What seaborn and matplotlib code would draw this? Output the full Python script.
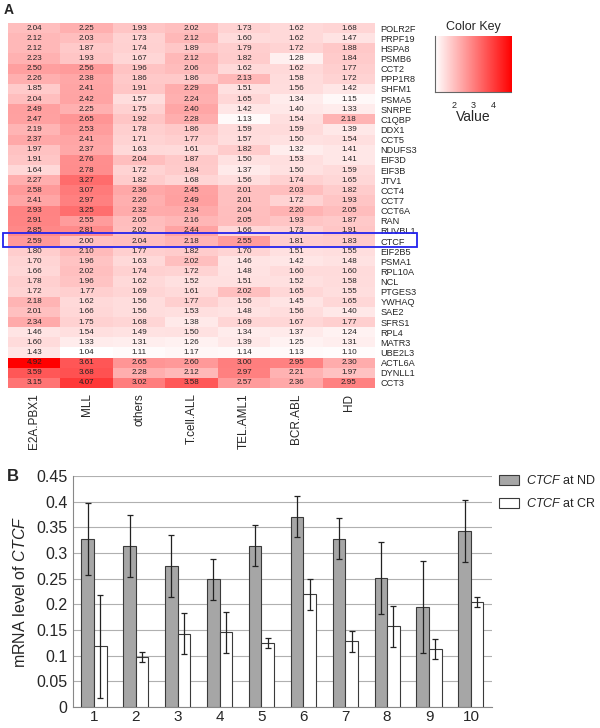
import matplotlib
matplotlib.use('Agg')
import matplotlib.pyplot as plt
import seaborn as sns
import numpy as np
import pandas as pd
from matplotlib.colors import LinearSegmentedColormap
from matplotlib.patches import Rectangle, Patch

# ---- panel A data ----
genes = ['POLR2F', 'PRPF19', 'HSPA8', 'PSMB6', 'CCT2', 'PPP1R8', 'SHFM1', 'PSMA5',
         'SNRPE', 'C1QBP', 'DDX1', 'CCT5', 'NDUFS3', 'EIF3D', 'EIF3B', 'JTV1',
         'CCT4', 'CCT7', 'CCT6A', 'RAN', 'RUVBL1', 'CTCF', 'EIF2B5', 'PSMA1',
         'RPL10A', 'NCL', 'PTGES3', 'YWHAQ', 'SAE2', 'SFRS1', 'RPL4', 'MATR3',
         'UBE2L3', 'ACTL6A', 'DYNLL1', 'CCT3']
subtypes = ['E2A.PBX1', 'MLL', 'others', 'T.cell.ALL', 'TEL.AML1', 'BCR.ABL', 'HD']

e2a_pbx1 = [2.04, 2.12, 2.12, 2.23, 2.50, 2.26, 1.85, 2.04, 2.49, 2.47, 2.19, 2.37,
            1.97, 1.91, 1.64, 2.27, 2.58, 2.41, 2.93, 2.91, 2.85, 2.59, 1.80, 1.70,
            1.66, 1.78, 1.72, 2.18, 2.01, 2.34, 1.46, 1.60, 1.43, 4.92, 3.59, 3.15]
mll = [2.25, 2.03, 1.87, 1.93, 2.56, 2.38, 2.41, 2.42, 2.25, 2.65, 2.53, 2.41,
       2.37, 2.76, 2.78, 3.27, 3.07, 2.97, 3.25, 2.55, 2.81, 2.00, 2.10, 1.96,
       2.02, 1.96, 1.77, 1.62, 1.66, 1.75, 1.54, 1.33, 1.04, 3.61, 3.68, 4.07]
others = [1.93, 1.73, 1.74, 1.67, 1.96, 1.86, 1.91, 1.57, 1.75, 1.92, 1.78, 1.71,
          1.63, 2.04, 1.72, 1.82, 2.36, 2.26, 2.32, 2.05, 2.02, 2.04, 1.77, 1.63,
          1.74, 1.62, 1.69, 1.56, 1.56, 1.68, 1.49, 1.31, 1.11, 2.65, 2.28, 3.02]
t_cell_all = [2.02, 2.12, 1.89, 2.12, 2.06, 1.86, 2.29, 2.24, 2.40, 2.28, 1.86, 1.77,
              1.61, 1.87, 1.84, 1.68, 2.45, 2.49, 2.34, 2.16, 2.44, 2.18, 1.82, 2.02,
              1.72, 1.52, 1.61, 1.77, 1.53, 1.38, 1.50, 1.26, 1.17, 2.60, 2.12, 3.58]
tel_aml1 = [1.73, 1.60, 1.79, 1.82, 1.62, 2.13, 1.51, 1.65, 1.42, 1.13, 1.59, 1.57,
            1.82, 1.50, 1.37, 1.56, 2.01, 2.01, 2.04, 2.05, 1.66, 2.55, 1.70, 1.46,
            1.48, 1.51, 2.02, 1.56, 1.48, 1.69, 1.34, 1.39, 1.14, 3.00, 2.97, 2.57]
bcr_abl = [1.62, 1.62, 1.72, 1.28, 1.62, 1.58, 1.56, 1.34, 1.40, 1.54, 1.59, 1.50,
           1.32, 1.53, 1.50, 1.74, 2.03, 1.72, 2.20, 1.93, 1.73, 1.81, 1.51, 1.42,
           1.60, 1.52, 1.65, 1.45, 1.56, 1.67, 1.37, 1.25, 1.13, 2.95, 2.21, 2.36]
hd = [1.68, 1.47, 1.88, 1.84, 1.77, 1.72, 1.42, 1.15, 1.33, 2.18, 1.39, 1.54,
      1.41, 1.41, 1.59, 1.65, 1.82, 1.93, 2.05, 1.87, 1.91, 1.83, 1.55, 1.48,
      1.60, 1.58, 1.55, 1.65, 1.40, 1.77, 1.24, 1.31, 1.10, 2.30, 1.97, 2.95]

# ---- panel B data ----
samples = ['1', '2', '3', '4', '5', '6', '7', '8', '9', '10']
nd_mean = [0.328, 0.314, 0.275, 0.249, 0.314, 0.371, 0.328, 0.251, 0.195, 0.343]
nd_err = [0.070, 0.060, 0.060, 0.040, 0.040, 0.040, 0.040, 0.070, 0.090, 0.060]
cr_mean = [0.118, 0.098, 0.143, 0.146, 0.125, 0.220, 0.128, 0.157, 0.113, 0.205]
cr_err = [0.100, 0.010, 0.040, 0.040, 0.010, 0.030, 0.020, 0.040, 0.020, 0.010]

sns.set_style('white')
plt.rcParams['font.family'] = ['Liberation Sans', 'DejaVu Sans']
plt.rcParams['mathtext.fontset'] = 'custom'
plt.rcParams['mathtext.rm'] = 'Liberation Sans'
plt.rcParams['mathtext.it'] = 'Liberation Sans:italic'

fig = plt.figure(figsize=(6, 7.28), dpi=100)

# ---------------- heatmap ----------------
heat = pd.DataFrame({'E2A.PBX1': e2a_pbx1, 'MLL': mll, 'others': others,
                     'T.cell.ALL': t_cell_all, 'TEL.AML1': tel_aml1,
                     'BCR.ABL': bcr_abl, 'HD': hd}, index=genes)[subtypes]
vmin, vmax = heat.values.min(), heat.values.max()
cmap = LinearSegmentedColormap.from_list('wr', ['#ffffff', '#ff0000'])

ax1 = fig.add_axes([0.0133, 0.467, 0.612, 0.5014])
sns.heatmap(heat, ax=ax1, cmap=cmap, vmin=vmin, vmax=vmax, cbar=False,
            annot=True, fmt='.2f', annot_kws={'size': 5.8, 'color': '#222222'})
ax1.yaxis.tick_right()
ax1.set_yticks(np.arange(len(genes)) + 0.5)
ax1.set_yticklabels(genes, rotation=0, fontsize=6.6)
ax1.set_xticklabels(subtypes, rotation=90, fontsize=8.5)
ax1.tick_params(length=0, pad=4)
ax1.set_xlabel('')
ax1.set_ylabel('')
ictcf = genes.index('CTCF')
ax1.add_patch(Rectangle((-0.1, ictcf - 0.25), 7.9, 1.35, fill=False,
                        edgecolor='#2222ee', lw=1.3, clip_on=False))
fig.text(0.006, 0.996, 'A', fontsize=10, fontweight='bold', va='top')

# color key
axk = fig.add_axes([0.725, 0.8736, 0.1267, 0.0769])
grad = np.linspace(vmin, vmax, 256)[None, :]
axk.imshow(grad, aspect='auto', cmap=cmap, extent=[vmin, vmax, 0, 1])
axk.set_xticks([2, 3, 4])
axk.set_yticks([])
axk.tick_params(axis='x', labelsize=6.5, length=3, direction='out', color='#555555')
for s in ['top', 'right']:
    axk.spines[s].set_visible(False)
for s in ['left', 'bottom']:
    axk.spines[s].set_color('#666666')
    axk.spines[s].set_linewidth(0.8)
axk.set_title('Color Key', fontsize=9, pad=4)
axk.set_xlabel('Value', fontsize=10, labelpad=0)

# ---------------- bar chart ----------------
bars = pd.DataFrame({
    'sample': samples * 2,
    'group': ['ND'] * len(samples) + ['CR'] * len(samples),
    'value': nd_mean + cr_mean,
})
ax2 = fig.add_axes([0.1217, 0.0288, 0.698, 0.3173])
sns.barplot(data=bars, x='sample', y='value', hue='group', ax=ax2,
            palette={'ND': '#a6a6a6', 'CR': '#ffffff'}, edgecolor='#3a3a3a',
            linewidth=0.8, width=0.6, errorbar=None, legend=False, zorder=3)
for cont, errs in zip(ax2.containers, [nd_err, cr_err]):
    xs = [p.get_x() + p.get_width() / 2 for p in cont.patches]
    ys = [p.get_height() for p in cont.patches]
    ax2.errorbar(xs, ys, yerr=errs, fmt='none', ecolor='#222222',
                 elinewidth=0.9, capsize=2.2, capthick=0.9, zorder=4)

ax2.set_ylim(0, 0.45)
yt = np.arange(0, 0.451, 0.05)
ax2.set_yticks(yt)
ax2.set_yticklabels(['{:g}'.format(round(v, 2)) for v in yt], fontsize=11.5)
ax2.yaxis.grid(True, color='#b0b0b0', lw=0.8, zorder=0)
ax2.set_axisbelow(True)
ax2.set_xlim(-0.5, len(samples) - 0.5)
ax2.set_xticks(np.arange(len(samples)))
ax2.set_xticklabels(samples, fontsize=11)
ax2.set_xticks(np.arange(len(samples) + 1) - 0.5, minor=True)
ax2.tick_params(axis='x', which='major', length=0, pad=2)
ax2.tick_params(axis='x', which='minor', length=4, color='#888888')
ax2.tick_params(axis='y', length=0, pad=4)
ax2.set_xlabel('')
ax2.set_ylabel(r'mRNA level of $\it{CTCF}$', fontsize=11.5, labelpad=6)
sns.despine(ax=ax2)
for s in ['left', 'bottom']:
    ax2.spines[s].set_color('#888888')
    ax2.spines[s].set_linewidth(0.8)

handles = [Patch(facecolor='#a6a6a6', edgecolor='#3a3a3a', lw=0.8),
           Patch(facecolor='#ffffff', edgecolor='#3a3a3a', lw=0.8)]
ax2.legend(handles, [r'$\it{CTCF}$ at ND', r'$\it{CTCF}$ at CR'],
           loc='upper left', bbox_to_anchor=(1.0, 1.04), frameon=False,
           fontsize=9, handlelength=1.6, handleheight=0.9, handletextpad=0.5,
           labelspacing=0.8, borderaxespad=0.2)
fig.text(0.012, 0.345, 'B', fontsize=12, fontweight='bold', va='center')

plt.savefig('out.png', dpi=100)
